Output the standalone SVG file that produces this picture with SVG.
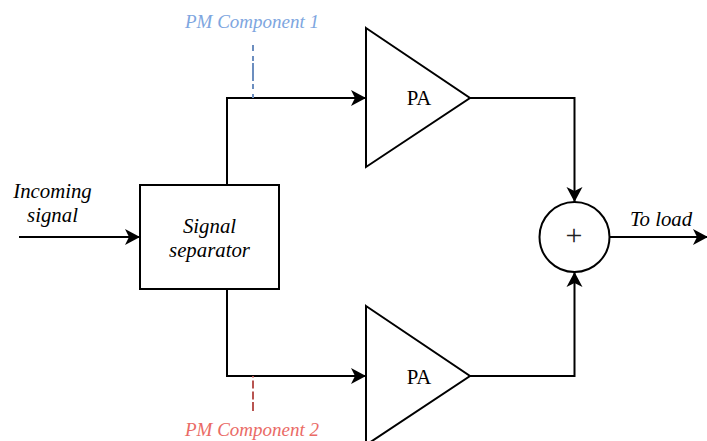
<svg xmlns="http://www.w3.org/2000/svg" width="707" height="441" viewBox="0 0 707 441">
<defs>
<marker id="a" markerUnits="userSpaceOnUse" markerWidth="18" markerHeight="18" refX="16" refY="9" orient="auto"><path d="M1 1 L16 9 L1 17 L5 9 Z" fill="#000"/></marker>
</defs>
<style>
text{font-family:"Liberation Serif","Times New Roman",serif;font-size:20.8px;fill:#000;text-anchor:middle}
.i{font-style:italic}
.p{font-size:19px}
.s{fill:#fff;stroke:#000;stroke-width:2}
.c{fill:none;stroke:#000;stroke-width:2;marker-end:url(#a)}
.d{fill:none;stroke-width:2}
</style>
<rect width="707" height="441" fill="#fff"/>
<g id="connectors">
<path class="c" d="M19 237H140"/>
<path class="c" d="M227 185V98H366"/>
<path class="c" d="M227 289V376H366"/>
<path class="c" d="M470 98H574.500V202"/>
<path class="c" d="M470 376H574.500V272"/>
<path class="c" d="M609 237H708"/>
<path class="d" stroke="#6c8ebf" stroke-dasharray="6 5 5 2 18 3 5 5 4" d="M253 45V98"/>
<path class="d" stroke="#b85450" stroke-dasharray="9 2.500 8 3 8 3 2" d="M253 411V376"/>
</g>
<g id="separator"><rect class="s" x="140" y="185" width="139" height="104"/><text class="i" x="209.500" y="233">Signal</text><text class="i" x="209.500" y="257">separator</text></g>
<g id="pa1"><path class="s" d="M366 28L470 98L366 167Z"/><text x="419" y="105">PA</text></g>
<g id="pa2"><path class="s" d="M366 306L470 376L366 445Z"/><text x="419" y="384">PA</text></g>
<g id="sum"><circle class="s" cx="574.500" cy="237" r="35"/><text x="574" y="244.500" style="font-size:30px;fill:#222">+</text></g>
<g id="labels">
<text class="i" x="52.500" y="198">Incoming</text>
<text class="i" x="52.500" y="222">signal</text>
<text class="i" x="661" y="226">To load</text>
<text class="i p" x="252" y="28" style="fill:#7ea6e0">PM Component 1</text>
<text class="i p" x="252" y="436" style="fill:#ea6b66">PM Component 2</text>
</g>
</svg>
